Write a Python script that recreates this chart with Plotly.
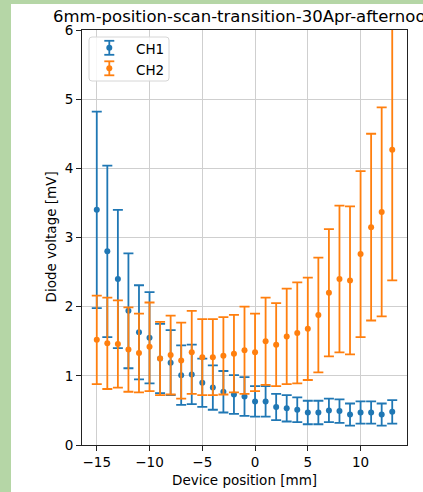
import plotly.graph_objects as go

# ---- data ----
positions = [-15, -14, -13, -12, -11, -10, -9, -8, -7, -6, -5, -4, -3, -2, -1,
             0, 1, 2, 3, 4, 5, 6, 7, 8, 9, 10, 11, 12, 13]
ch1 = [3.40, 2.80, 2.40, 1.94, 1.63, 1.55, 1.25, 1.19, 1.01, 1.02, 0.90, 0.83, 0.77, 0.73, 0.70,
       0.63, 0.63, 0.55, 0.53, 0.51, 0.47, 0.47, 0.50, 0.49, 0.44, 0.47, 0.47, 0.44, 0.48]
ch1_err = [1.42, 1.24, 1.00, 0.83, 0.68, 0.66, 0.50, 0.47, 0.43, 0.43, 0.35, 0.32, 0.30, 0.28, 0.28,
           0.22, 0.22, 0.19, 0.19, 0.18, 0.17, 0.17, 0.17, 0.17, 0.16, 0.16, 0.16, 0.16, 0.17]
ch2 = [1.52, 1.47, 1.46, 1.38, 1.33, 1.42, 1.25, 1.30, 1.22, 1.34, 1.27, 1.27, 1.29, 1.32, 1.37,
       1.34, 1.50, 1.45, 1.57, 1.62, 1.68, 1.88, 2.20, 2.40, 2.38, 2.76, 3.15, 3.37, 4.27]
ch2_err = [0.64, 0.66, 0.63, 0.61, 0.57, 0.64, 0.53, 0.57, 0.55, 0.60, 0.55, 0.55, 0.56, 0.56, 0.63,
           0.56, 0.63, 0.60, 0.69, 0.73, 0.74, 0.83, 0.92, 1.06, 1.07, 1.20, 1.35, 1.51, 1.89]
series_names = ["CH1", "CH2"]
x_ticks = [-15, -10, -5, 0, 5, 10]
x_ticktext = ["\u221215", "\u221210", "\u22125", "0", "5", "10"]
y_ticks = [0, 1, 2, 3, 4, 5, 6]
title_text = "6mm-position-scan-transition-30Apr-afternoon"
x_label = "Device position [mm]"
y_label = "Diode voltage [mV]"

# ---- layout geometry ----
W, H = 423, 492
L, R, T, B = 82, 407, 30, 445
FONT = "DejaVu Sans"
BLUE = "#1f77b4"
ORANGE = "#ff7f0e"
GREEN = "#b5d6a6"


def px(xp):
    return (xp - L) / (R - L)


def py(yp):
    return (B - yp) / (B - T)


fig = go.Figure()
for name, vals, errs, col in [(series_names[0], ch1, ch1_err, BLUE),
                              (series_names[1], ch2, ch2_err, ORANGE)]:
    fig.add_trace(go.Scatter(
        x=positions, y=vals, name=name, mode="markers",
        marker=dict(color=col, size=6),
        error_y=dict(type="data", array=errs, visible=True, color=col,
                     thickness=1.8, width=5),
        showlegend=False,
    ))

shapes = []
# green page border strips
shapes.append(dict(type="rect", xref="paper", yref="paper", x0=px(0), x1=px(11),
                   y0=py(H), y1=py(0), fillcolor=GREEN, line=dict(width=0), layer="above"))
shapes.append(dict(type="rect", xref="paper", yref="paper", x0=px(0), x1=px(W),
                   y0=py(4), y1=py(0), fillcolor=GREEN, line=dict(width=0), layer="above"))

# legend frame (rounded)
lx0, lx1, ly0, ly1, r = 89, 169, 37, 81, 3


def P(a, b):
    return f"{px(a)},{py(b)}"


path = (f"M {P(lx0 + r, ly0)} L {P(lx1 - r, ly0)} Q {P(lx1, ly0)} {P(lx1, ly0 + r)} "
        f"L {P(lx1, ly1 - r)} Q {P(lx1, ly1)} {P(lx1 - r, ly1)} "
        f"L {P(lx0 + r, ly1)} Q {P(lx0, ly1)} {P(lx0, ly1 - r)} "
        f"L {P(lx0, ly0 + r)} Q {P(lx0, ly0)} {P(lx0 + r, ly0)} Z")
shapes.append(dict(type="path", xref="paper", yref="paper", path=path,
                   fillcolor="rgba(255,255,255,0.8)", line=dict(color="#d6d6d6", width=1),
                   layer="above"))

annotations = []
for i, (name, col) in enumerate(zip(series_names, [BLUE, ORANGE])):
    cy = 47.8 + 20.5 * i
    ix = 109.3
    shapes.append(dict(type="line", xref="paper", yref="paper", x0=px(ix), x1=px(ix),
                       y0=py(cy - 7), y1=py(cy + 7), line=dict(color=col, width=1.8), layer="above"))
    for cap in (cy - 7, cy + 7):
        shapes.append(dict(type="line", xref="paper", yref="paper", x0=px(ix - 5), x1=px(ix + 5),
                           y0=py(cap), y1=py(cap), line=dict(color=col, width=1.8), layer="above"))
    shapes.append(dict(type="circle", xref="paper", yref="paper", x0=px(ix - 3), x1=px(ix + 3),
                       y0=py(cy + 3), y1=py(cy - 3), fillcolor=col, line=dict(width=0), layer="above"))
    annotations.append(dict(text=name, xref="paper", yref="paper", x=px(134), y=py(cy + 1.5),
                            xanchor="left", yanchor="middle", showarrow=False,
                            font=dict(family=FONT, size=13.5, color="black")))

# axis titles placed as annotations for precise positioning
annotations.append(dict(text=x_label, xref="paper", yref="paper", x=0.5, y=py(480),
                        xanchor="center", yanchor="middle", showarrow=False,
                        font=dict(family=FONT, size=13.5, color="black")))
annotations.append(dict(text=y_label, xref="paper", yref="paper", x=px(50), y=0.5,
                        xanchor="center", yanchor="middle", showarrow=False, textangle=-90,
                        font=dict(family=FONT, size=13.5, color="black")))

fig.update_layout(
    width=W, height=H,
    margin=dict(l=L, r=W - R, t=T, b=H - B, pad=0),
    paper_bgcolor="white", plot_bgcolor="white",
    font=dict(family=FONT, size=13.5, color="black"),
    title=dict(text=title_text, x=0.5, xref="paper", xanchor="center",
               y=1 - 16 / H, yref="container", yanchor="middle",
               font=dict(family=FONT, size=16.5, color="black")),
    xaxis=dict(range=[-16.4, 14.4], tickvals=x_ticks, ticktext=x_ticktext, automargin=False,
               showline=True, mirror=True, linecolor="#222", linewidth=1.1,
               ticks="outside", ticklen=5, tickwidth=1.1, tickcolor="#222",
               showgrid=True, gridcolor="#cfcfcf", gridwidth=1, zeroline=False),
    yaxis=dict(range=[0, 6], tickvals=y_ticks, automargin=False,
               showline=True, mirror=True, linecolor="#222", linewidth=1.1,
               ticks="outside", ticklen=5, tickwidth=1.1, tickcolor="#222",
               showgrid=True, gridcolor="#cfcfcf", gridwidth=1, zeroline=False),
    shapes=shapes,
    annotations=annotations,
    showlegend=False,
)

fig.write_html("out.html")
